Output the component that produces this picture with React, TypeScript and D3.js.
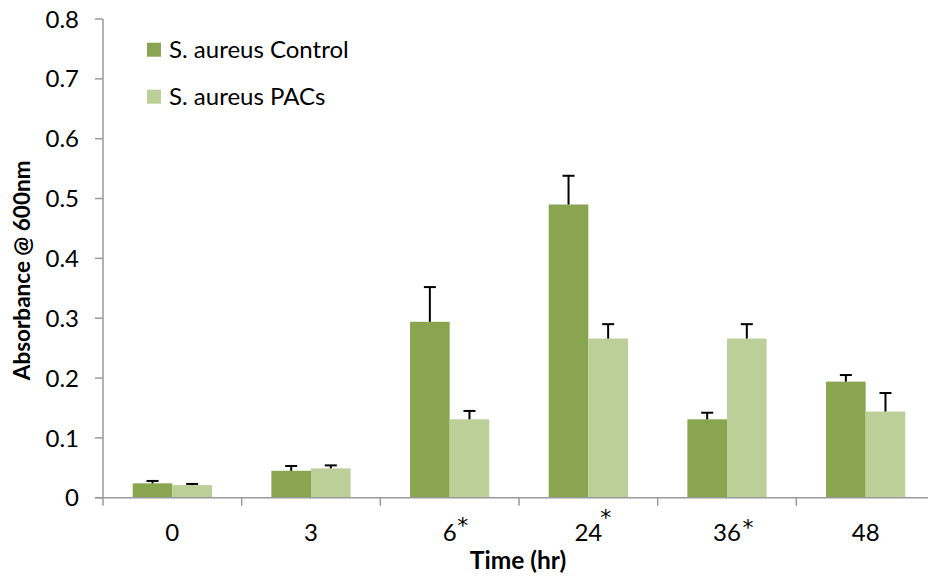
import React from "react";
import * as d3 from "d3";

const categories = ["0", "3", "6", "24", "36", "48"];
const significant = [false, false, true, true, true, false];
const seriesNames = ["S. aureus Control", "S. aureus PACs"];
const controlValues = [0.024, 0.045, 0.294, 0.49, 0.131, 0.194];
const controlErrors = [0.004, 0.008, 0.058, 0.048, 0.011, 0.011];
const pacValues = [0.021, 0.049, 0.131, 0.266, 0.266, 0.144];
const pacErrors = [0.002, 0.005, 0.014, 0.024, 0.024, 0.031];
const yTicks = [0, 0.1, 0.2, 0.3, 0.4, 0.5, 0.6, 0.7, 0.8];

const W = 928;
const H = 578;
const colors = ["#8aa54f", "#bccf98"];
const FONT = "Lato, Carlito, 'Open Sans', sans-serif";

// placement of significance asterisks relative to label centre (layout only)
const starPlacement: Record<string, { dx: number; baseline: number }> = {
  "6": { dx: 13, baseline: 533 },
  "24": { dx: 17.5, baseline: 525 },
  "36": { dx: 21, baseline: 535 },
};

export default function App() {
  const x = d3.scaleBand<string>().domain(categories).range([103, 935]).paddingInner(0).paddingOuter(0);
  const y = d3.scaleLinear().domain([0, 0.8]).range([497.7, 19]);
  const bw = x.bandwidth() / 3.5;
  const series = [
    { name: seriesNames[0], values: controlValues, errors: controlErrors, color: colors[0] },
    { name: seriesNames[1], values: pacValues, errors: pacErrors, color: colors[1] },
  ];
  const axisColor = "#9a9a9a";
  return (
    <svg width={W} height={H} style={{ position: "absolute", left: 0, top: 0, background: "#fff" }}>
      {series.map((s, si) =>
        categories.map((c, i) => {
          const cx = (x(c) as number) + x.bandwidth() / 2;
          const bx = cx - bw + si * bw;
          const top = y(s.values[i]);
          return <rect key={`b${si}-${i}`} x={bx} y={top} width={bw} height={y(0) - top} fill={s.color} />;
        })
      )}
      {series.map((s, si) =>
        categories.map((c, i) => {
          const cx = (x(c) as number) + x.bandwidth() / 2;
          const ex = cx - bw + si * bw + bw / 2;
          const top = y(s.values[i]);
          const et = y(s.values[i] + s.errors[i]);
          return (
            <g key={`e${si}-${i}`} stroke="#000" strokeWidth={2}>
              <line x1={ex} x2={ex} y1={top} y2={et} />
              <line x1={ex - 6} x2={ex + 6} y1={et} y2={et} />
            </g>
          );
        })
      )}
      <line x1={103} x2={103} y1={y(0.8)} y2={y(0)} stroke={axisColor} strokeWidth={1.5} />
      {yTicks.map((t) => (
        <g key={`yt${t}`}>
          <line x1={95} x2={103} y1={y(t)} y2={y(t)} stroke={axisColor} strokeWidth={1.5} />
          <text x={79} y={y(t)} dy="0.36em" textAnchor="end" fontFamily={FONT} fontSize={24} fill="#000">
            {t === 0 ? "0" : d3.format(".1f")(t)}
          </text>
        </g>
      ))}
      <line x1={95} x2={935} y1={y(0)} y2={y(0)} stroke={axisColor} strokeWidth={1.5} />
      {[...categories.map((c) => x(c) as number), 935].map((p, i) => (
        <line key={`xt${i}`} x1={p} x2={p} y1={y(0)} y2={y(0) + 8} stroke={axisColor} strokeWidth={1.5} />
      ))}
      {categories.map((c, i) => {
        const cx = (x(c) as number) + x.bandwidth() / 2;
        const sp = starPlacement[c];
        return (
          <g key={`xl${c}`}>
            <text x={cx} y={540.5} textAnchor="middle" fontFamily={FONT} fontSize={24} fill="#000">
              {c}
            </text>
            {significant[i] && sp && (
              <text
                x={cx + sp.dx}
                y={sp.baseline}
                textAnchor="middle"
                fontFamily="'DejaVu Sans', sans-serif"
                fontSize={22}
                fill="#000"
              >
                *
              </text>
            )}
          </g>
        );
      })}
      <text x={518} y={569} textAnchor="middle" fontFamily={FONT} fontWeight="bold" fontSize={24.5} fill="#000">
        Time (hr)
      </text>
      <text
        transform={`translate(30,${y(0.4) + 12}) rotate(-90)`}
        textAnchor="middle"
        fontFamily={FONT}
        fontWeight="bold"
        fontSize={22.5}
        fill="#000"
      >
        Absorbance @ 600nm
      </text>
      {series.map((s, si) => (
        <g key={`lg${si}`} transform={`translate(147,${49.7 + si * 47})`}>
          <rect x={0} y={-7} width={14} height={14} fill={s.color} />
          <text x={22} y={0} dy="0.36em" fontFamily={FONT} fontSize={24} fill="#000">
            {s.name}
          </text>
        </g>
      ))}
    </svg>
  );
}
